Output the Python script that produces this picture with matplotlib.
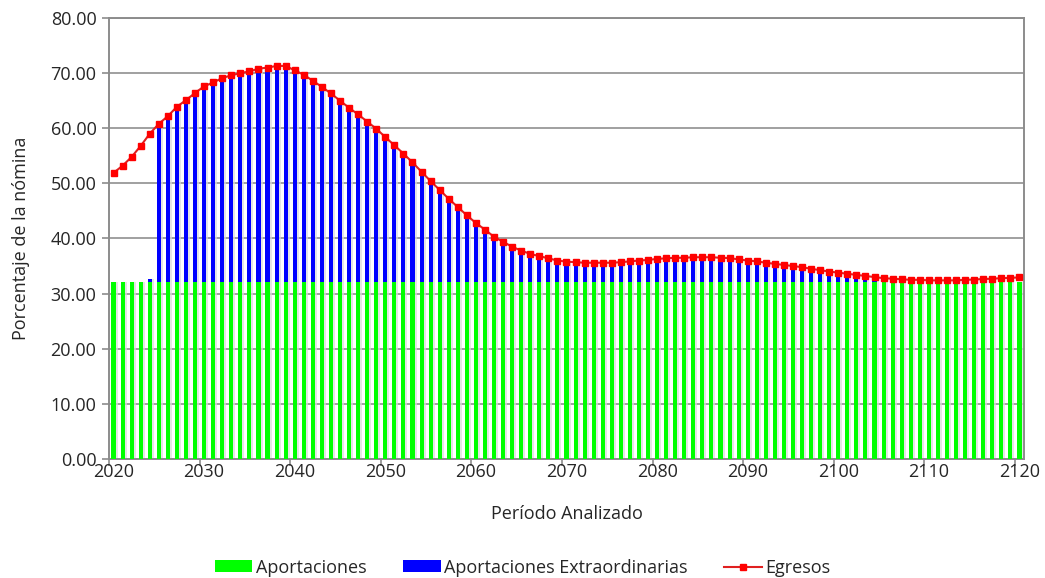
import matplotlib
matplotlib.use("Agg")
import matplotlib.pyplot as plt
import matplotlib.ticker as ticker
import numpy as np

# Periodo analizado
anios = list(range(2020, 2121))

# Egresos (% de la nomina)
egresos = [
    51.9, 53.2, 54.8, 56.8, 59.0, 60.8, 62.2, 63.9, 65.1, 66.4,
    67.6, 68.3, 69.1, 69.6, 70.0, 70.3, 70.8, 71.0, 71.3, 71.3,
    70.5, 69.7, 68.6, 67.5, 66.3, 65.0, 63.7, 62.5, 61.2, 59.9,
    58.4, 56.9, 55.4, 53.8, 52.1, 50.4, 48.8, 47.2, 45.7, 44.2,
    42.8, 41.6, 40.3, 39.4, 38.5, 37.8, 37.2, 36.8, 36.4, 36.0,
    35.8, 35.7, 35.6, 35.6, 35.6, 35.6, 35.7, 35.85, 36.0, 36.1,
    36.3, 36.4, 36.5, 36.5, 36.6, 36.6, 36.6, 36.5, 36.45, 36.2,
    36.0, 35.85, 35.6, 35.4, 35.2, 35.0, 34.8, 34.5, 34.25, 34.0,
    33.8, 33.6, 33.4, 33.2, 33.0, 32.8, 32.7, 32.6, 32.5, 32.5,
    32.4, 32.4, 32.4, 32.4, 32.5, 32.55, 32.65, 32.7, 32.8, 32.85,
    32.95,
]

# Aportaciones ordinarias (constantes)
aportaciones = [32.15] * len(anios)

# Aportaciones extraordinarias
extraordinarias = [
    0.0, 0.0, 0.0, 0.0, 0.5, 28.6, 30.0, 31.7, 32.9, 34.2,
    35.4, 36.1, 36.9, 37.4, 37.8, 38.1, 38.6, 38.8, 39.1, 39.1,
    38.3, 37.5, 36.4, 35.3, 34.1, 32.8, 31.5, 30.3, 29.0, 27.7,
    26.2, 24.7, 23.2, 21.6, 19.9, 18.2, 16.6, 15.0, 13.5, 12.0,
    10.6, 9.4, 8.1, 7.2, 6.3, 5.6, 5.0, 4.6, 4.2, 3.8,
    3.6, 3.5, 3.4, 3.4, 3.4, 3.4, 3.5, 3.7, 3.8, 3.9,
    4.1, 4.2, 4.3, 4.3, 4.4, 4.4, 4.4, 4.3, 4.3, 4.0,
    3.8, 3.7, 3.4, 3.2, 3.0, 2.8, 2.6, 2.3, 2.1, 1.8,
    1.6, 1.4, 1.2, 1.0, 0.8, 0.0, 0.0, 0.0, 0.0, 0.0,
    0.0, 0.0, 0.0, 0.0, 0.0, 0.0, 0.0, 0.0, 0.0, 0.0,
    0.0,
]

decadas = list(range(2020, 2121, 10))

plt.rcParams["font.family"] = ["Open Sans", "DejaVu Sans"]
TXT = "#262626"
GRIS = "#8c8c8c"
FS = 13

fig = plt.figure(figsize=(10.45, 5.78), dpi=100)
ax = fig.add_axes([0.1043, 0.2059, 0.8756, 0.763])

x = np.array(anios)
ap = np.array(aportaciones)
ex = np.array(extraordinarias)
width = 0.45

# sombra de las barras
ax.bar(x + 0.22, ap + ex, width, color="#dadada", alpha=0.7, zorder=2, linewidth=0)
b1 = ax.bar(x, ap, width, color="#00ff00", zorder=3, linewidth=0, label="Aportaciones")
b2 = ax.bar(x, ex, width, bottom=ap, color="#0000ff", zorder=3, linewidth=0,
            label="Aportaciones Extraordinarias")
l1, = ax.plot(x, egresos, color="#e02020", linewidth=1.5, marker="s", markersize=5,
              markerfacecolor="#ff0000", markeredgecolor="#ff0000", zorder=4,
              label="Egresos")

ax.set_xlim(2019.5, 2120.5)
ax.set_ylim(0, 80)
ax.yaxis.set_major_locator(ticker.MultipleLocator(10))
ax.yaxis.set_major_formatter(ticker.FormatStrFormatter("%.2f"))
ax.grid(axis="y", color="#a0a0a0", linewidth=1.4, zorder=1)
ax.set_axisbelow(True)

# marcas entre categorias, etiquetas centradas
ax.set_xticks([d - 0.5 for d in decadas])
ax.set_xticklabels([])
ax.set_xticks(decadas, minor=True)
ax.set_xticklabels([str(d) for d in decadas], minor=True)
ax.tick_params(axis="x", which="major", length=5, color=GRIS, width=1.2)
ax.tick_params(axis="x", which="minor", length=0, labelsize=FS, labelcolor=TXT, pad=3)
ax.tick_params(axis="y", length=5, color=GRIS, width=1.2, labelsize=FS,
               labelcolor=TXT, pad=4)

for s in ax.spines.values():
    s.set_color(GRIS)
    s.set_linewidth(1.4)

ax.set_xlabel("Período Analizado", fontsize=FS, color=TXT, labelpad=17)
ax.set_ylabel("Porcentaje de la nómina", fontsize=FS, color=TXT, labelpad=15)

ax.legend(handles=[b1, b2, l1], loc="upper center", bbox_to_anchor=(0.452, -0.189),
          ncol=3, frameon=False, fontsize=FS, handlelength=2.1, handleheight=0.6,
          columnspacing=2.0, handletextpad=0.2, labelcolor=TXT)

fig.savefig("out.png", dpi=100)
